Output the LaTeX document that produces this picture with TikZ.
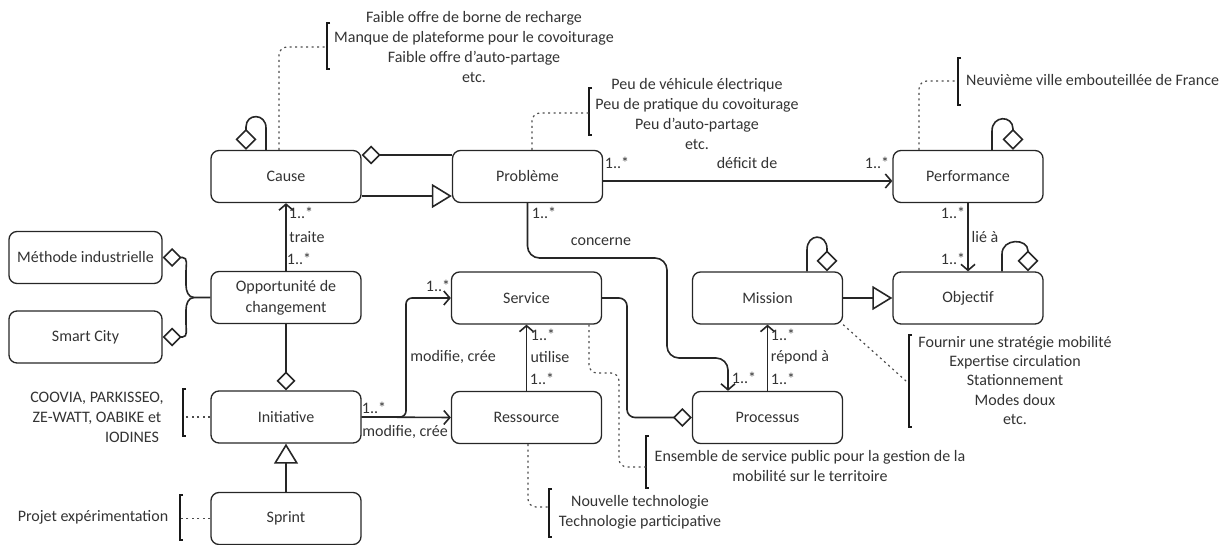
\documentclass[tikz,border=0pt]{standalone}
\usepackage{fontspec}
\setmainfont{Carlito}
\usetikzlibrary{arrows.meta}
\begin{document}
\begin{tikzpicture}[x=1pt,y=-1pt,
  every node/.style={font=\fontsize{16}{20}\selectfont, text=black!80},
  cls/.style={draw=black!85, line width=1.3pt, rounded corners=8pt, minimum width=150pt, minimum height=52pt, align=center, inner sep=2pt},
  conn/.style={draw=black!85, line width=1.6pt},
  assoc/.style={conn, -{Straight Barb[length=6pt,width=14pt]}},
  gen/.style={conn, -{Triangle[open,length=20pt,width=24pt,fill=white]}},
  aggs/.style={conn, {Diamond[open,length=19pt,width=19pt,fill=white]}-},
  agge/.style={conn, -{Diamond[open,length=21pt,width=21pt,fill=white]}},
  notel/.style={draw=black!70, line width=1.2pt, dash pattern=on 2pt off 3.5pt, rounded corners=8pt},
  brk/.style={draw=black!90, line width=1.6pt},
  lbl/.style={inner sep=0pt},
  notetxt/.style={inner sep=0pt, align=center}]
\useasboundingbox (0,0) rectangle (1228,545);

% classes
\node[cls] (cause) at (286,176.5) {Cause};
\node[cls] (prob) at (527.5,176.5) {Problème};
\node[cls] (perf) at (968,176.5) {Performance};
\node[cls, minimum width=153pt] (meth) at (85.5,257.5) {Méthode industrielle};
\node[cls, minimum width=153pt] (smart) at (85.5,337) {Smart City};
\node[cls, font=\fontsize{16}{21}\selectfont] (opp) at (286,297.5) {Opportunité de\\changement};
\node[cls] (serv) at (526.5,298) {Service};
\node[cls] (miss) at (767.5,298) {Mission};
\node[cls] (obj) at (968,298) {Objectif};
\node[cls] (init) at (286,417) {Initiative};
\node[cls] (ress) at (526.5,417.5) {Ressource};
\node[cls] (proc) at (767.5,417.5) {Processus};
\node[cls] (sprint) at (286,518.5) {Sprint};

% self aggregations
\draw[agge] ([xshift=-20pt]cause.north) -- (266,128) .. controls (266,113) and (246,113) .. (246,127) -- ([xshift=-40pt]cause.north);
\draw[agge] ([xshift=24pt]perf.north) -- (992,131) .. controls (992,115) and (1013,115) .. (1013,129) -- ([xshift=45pt]perf.north);
\draw[agge] ([xshift=39.5pt]miss.north) -- (807,250) .. controls (807,233) and (827,233) .. (827,249) -- ([xshift=59.5pt]miss.north);
\draw[agge] ([xshift=34pt]obj.north) -- (1002,254) .. controls (1002,238) and (1028,238) .. (1028,251) -- ([xshift=60pt]obj.north);

% Cause - Probleme
\draw[aggs] (cause.east |- 0,155) -- (prob.west |- 0,155);
\draw[gen] (cause.east |- 0,196) -- (prob.west |- 0,196);

% Probleme -> Performance
\draw[assoc] (prob.east |- 0,181) -- (perf.west |- 0,181);
\node[lbl] at (617,163) {1..*};
\node[lbl] at (747,163) {déficit de};
\node[lbl] at (877,163) {1..*};

% Performance -> Objectif
\draw[assoc] (perf.south) -- (obj.north);
\node[lbl] at (953,213) {1..*};
\node[lbl] at (985,237) {lié à};
\node[lbl] at (953,259) {1..*};

% Mission -> Objectif
\draw[gen] (miss.east) -- (obj.west);

% Opportunite -> Cause
\draw[assoc] (opp.north) -- (cause.south);
\node[lbl] at (301,213) {1..*};
\node[lbl] at (307,237) {traite};
\node[lbl] at (299,259) {1..*};

% Methode / Smart City -> Opportunite
\coordinate (j) at (194,297.5);
\draw[aggs] (meth.east) -- ++(20,0) to[out=0,in=90] (186,271) -- (186,285) to[out=-90,in=180] (j) -- (opp.west);
\draw[aggs] (smart.east) -- ++(20,0) to[out=0,in=-90] (186,324) -- (186,310) to[out=90,in=180] (j);

% Opportunite - Initiative
\draw[aggs] (init.north) -- (opp.south);
% Sprint -> Initiative
\draw[gen] (sprint.north) -- (init.south);

% Initiative -> Ressource / Service
\draw[assoc] (init.east) -- (ress.west);
\draw[assoc, rounded corners=6pt] (init.east) -- (406,417) |- (serv.west);
\node[lbl] at (438,286) {1..*};
\node[lbl] at (453,357) {modifie, crée};
\node[lbl] at (374,408) {1..*};
\node[lbl] at (405,432) {modifie, crée};

% Ressource -> Service
\draw[assoc] (ress.north) -- (serv.south);
\node[lbl] at (543,335) {1..*};
\node[lbl] at (550,357) {utilise};
\node[lbl] at (542,379) {1..*};

% Service - Processus
\draw[aggs, rounded corners=8pt] (proc.west) -- (627,417.5) |- (serv.east);

% Probleme -> Processus
\draw[assoc, rounded corners=12pt] (prob.south) -- (527.5,258) -- (667,258) -- (667,358) -- (728,358) -- ([xshift=-39.5pt]proc.north);
\node[lbl] at (544,213) {1..*};
\node[lbl] at (601,242) {concerne};
\node[lbl] at (744,378) {1..*};

% Processus -> Mission
\draw[assoc] (proc.north) -- (miss.south);
\node[lbl] at (783,335) {1..*};
\node[lbl] at (800,357) {répond à};
\node[lbl] at (783,379) {1..*};

% Notes
% Cause note
\node[notetxt] (nA) at (474,47) {Faible offre de borne de recharge\\Manque de plateforme pour le covoiturage\\Faible offre d'auto-partage\\etc.};
\draw[brk] (330,23) -- (327,23) -- (327,69) -- (330,69);
\coordinate (bA) at (327,47);
\draw[notel] ([xshift=-7pt]cause.north) -- (279,47) -- (bA);

% Probleme note
\node[notetxt] (nB) at (697,114.5) {Peu de véhicule électrique\\Peu de pratique du covoiturage\\Peu d'auto-partage\\etc.};
\draw[brk] (592,88) -- (589,88) -- (589,135) -- (592,135);
\coordinate (bB) at (589,113);
\draw[notel] ([xshift=4.5pt]prob.north) -- (532,113) -- (bB);

% Performance note
\node[lbl, anchor=west] (nC) at (966,80) {Neuvième ville embouteillée de France};
\draw[brk] (961,58) -- (958,58) -- (958,105) -- (961,105);
\coordinate (bC) at (958,81);
\draw[notel] ([xshift=-49pt]perf.north) -- (919,81) -- (bC);

% Mission note
\node[notetxt, font=\fontsize{16}{19.3}\selectfont] (nD) at (1015,380.5) {Fournir une stratégie mobilité\\Expertise circulation\\Stationnement\\Modes doux\\etc.};
\draw[brk] (912,335) -- (909,335) -- (909,427) -- (912,427);
\coordinate (bD) at (906,381);
\draw[notel] (miss.south east) -- (bD);

% Service note
\node[notetxt] (nE) at (810,466.5) {Ensemble de service public pour la gestion de la\\mobilité sur le territoire};
\draw[brk] (649,436) -- (646,436) -- (646,488) -- (649,488);
\coordinate (bE) at (646,467);
\draw[notel] ([xshift=62.5pt]serv.south) -- (589,373) -- (619,373) -- (619,467) -- (bE);

% Ressource note
\node[notetxt] (nF) at (640,512.5) {Nouvelle technologie\\Technologie participative};
\draw[brk] (552,489) -- (549,489) -- (549,537) -- (552,537);
\coordinate (bF) at (549,507);
\draw[notel] ([xshift=1.5pt]ress.south) -- (528,507) -- (bF);

% Initiative note
\node[notetxt] (nG) at (97,417) {COOVIA, PARKISSEO,\\ZE-WATT, OABIKE et\\\hspace*{70pt}IODINES};
\draw[brk] (186,389) -- (183,389) -- (183,436) -- (186,436);
\coordinate (bG) at (183,417);
\draw[notel] (init.west) -- (bG);

% Sprint note
\node[lbl] (nH) at (93,517) {Projet expérimentation};
\draw[brk] (183,495) -- (180,495) -- (180,540) -- (183,540);
\coordinate (bH) at (180,518.5);
\draw[notel] (sprint.west) -- (bH);
\end{tikzpicture}
\end{document}
